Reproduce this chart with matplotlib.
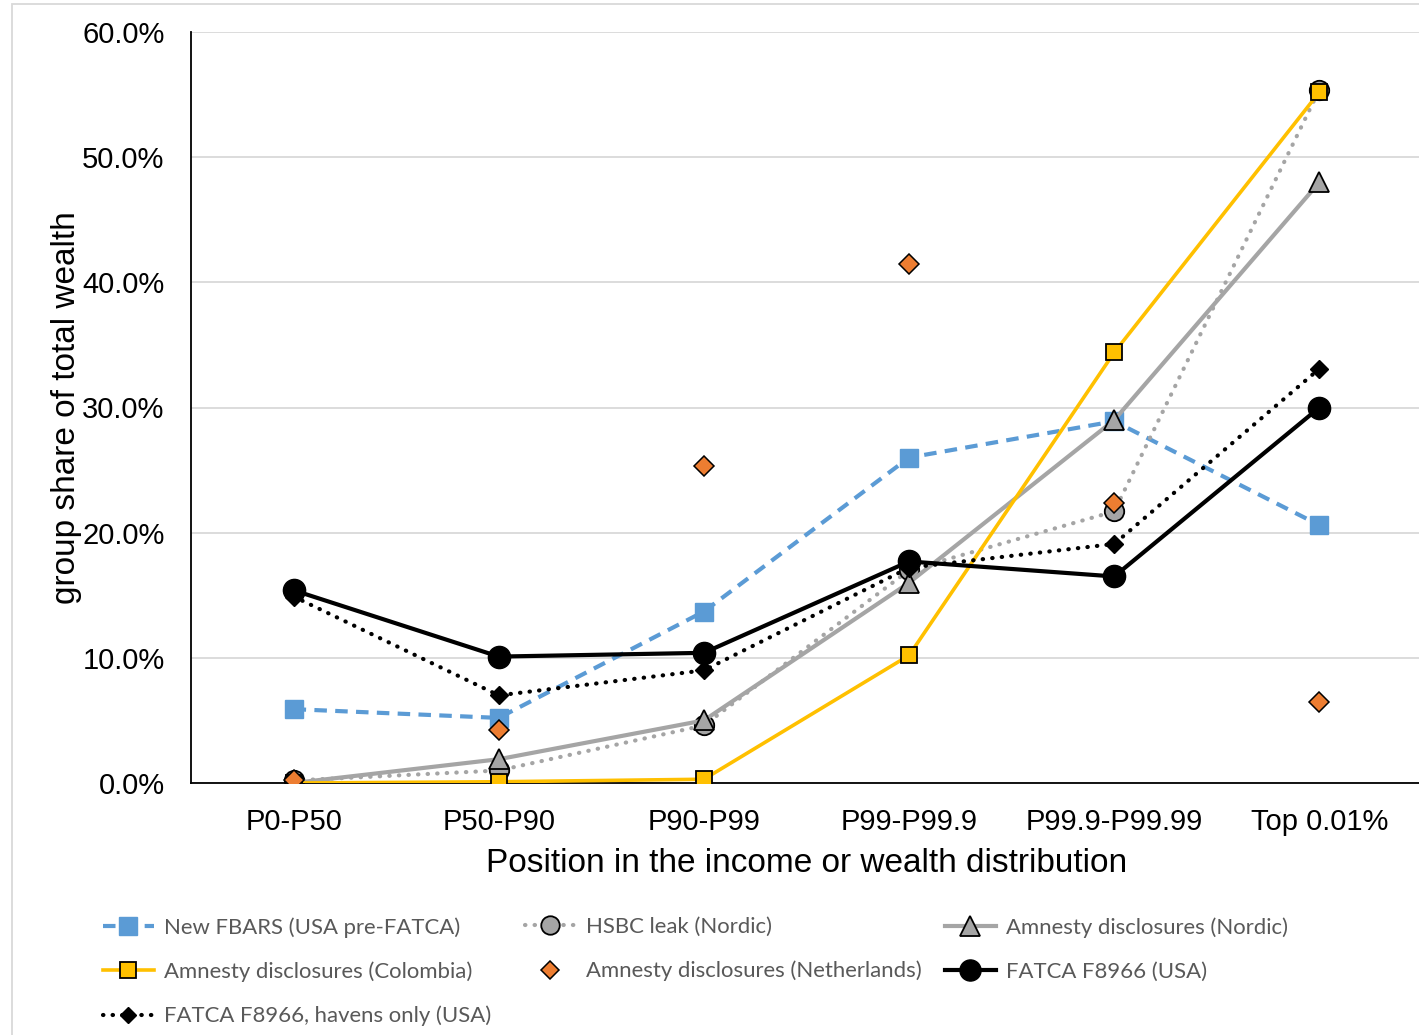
import numpy as np
import matplotlib.pyplot as plt
from matplotlib.patches import Rectangle

categories = ["P0-P50", "P50-P90", "P90-P99", "P99-P99.9", "P99.9-P99.99", "Top 0.01%"]

fbars = [5.9, 5.2, 13.7, 26.0, 28.9, 20.6]
hsbc = [0.2, 1.0, 4.6, 17.0, 21.7, 55.4]
amnesty_nordic = [0.0, 1.9, 5.0, 16.0, 29.0, 48.0]
amnesty_colombia = [0.0, 0.1, 0.3, 10.2, 34.4, 55.2]
amnesty_nl = [0.2, 4.2, 25.3, 41.5, 22.4, 6.5]
fatca = [15.4, 10.1, 10.4, 17.7, 16.5, 30.0]
fatca_havens = [14.9, 7.0, 9.0, 17.2, 19.1, 33.1]

BLUE = "#5B9BD5"
GRAY = "#A5A5A5"
YELLOW = "#FFC000"
ORANGE = "#ED7D31"

plt.rcParams['font.family'] = ['Liberation Sans', 'DejaVu Sans']

fig = plt.figure(figsize=(14.19, 10.35), dpi=100)
W, H = 1419, 1035
ax = fig.add_axes([191 / W, 1 - 783 / H, (1422 - 191) / W, (783 - 32) / H])

x = np.arange(len(categories))

ax.plot(x, fbars, color=BLUE, lw=3, ls=(0, (3, 2)), marker='s', ms=13,
        mfc=BLUE, mec=BLUE, label="New FBARS (USA pre-FATCA)", zorder=3)
ax.plot(x, hsbc, color=GRAY, lw=3, ls=(0, (0.1, 2.2)), dash_capstyle='round',
        marker='o', ms=14, mfc=GRAY, mec='black', mew=1.3,
        label="HSBC leak (Nordic)", zorder=3)
ax.plot(x, amnesty_nordic, color=GRAY, lw=3, marker='^', ms=15, mfc=GRAY,
        mec='black', mew=1.3, label="Amnesty disclosures (Nordic)", zorder=3)
ax.plot(x, amnesty_colombia, color=YELLOW, lw=2.6, marker='s', ms=11.5,
        mfc=YELLOW, mec='black', mew=1.3,
        label="Amnesty disclosures (Colombia)", zorder=4)
ax.plot(x, amnesty_nl, ls='none', marker='D', ms=10, mfc=ORANGE, mec='black',
        mew=1.1, label="Amnesty disclosures (Netherlands)", zorder=6)
ax.plot(x, fatca, color='black', lw=3, marker='o', ms=16, mfc='black',
        mec='black', label="FATCA F8966 (USA)", zorder=5)
ax.plot(x, fatca_havens, color='black', lw=3, ls=(0, (0.1, 2.2)),
        dash_capstyle='round', marker='D', ms=9, mfc='black', mec='black',
        label="FATCA F8966, havens only (USA)", zorder=5)

ax.set_xlim(-0.5, 5.5)
ax.set_ylim(0, 60)
ax.set_yticks(np.arange(0, 61, 10))
ax.set_yticklabels([f"{v:.1f}%" for v in np.arange(0, 61, 10)])
ax.set_xticks(x)
ax.set_xticklabels(categories)
ax.tick_params(axis='both', length=0, labelsize=21)
ax.tick_params(axis='y', pad=19)
ax.tick_params(axis='x', pad=18)
ax.grid(axis='y', color='#D9D9D9', lw=1.3)
ax.set_axisbelow(True)
for s in ['top', 'right']:
    ax.spines[s].set_visible(False)
for s in ['left', 'bottom']:
    ax.spines[s].set_color('black')
    ax.spines[s].set_linewidth(1.3)

ax.set_xlabel("Position in the income or wealth distribution", fontsize=24, labelpad=9)
ax.set_ylabel("group share of total wealth", fontsize=24, labelpad=0)

# outer chart border
fig.patches.append(Rectangle((12 / W, -0.1), 1.2, 1 - 4 / H + 0.1,
                             transform=fig.transFigure, fill=False,
                             ec='#D9D9D9', lw=1.3))

handles, labels = ax.get_legend_handles_labels()
cols = [[0, 3, 6], [1, 4], [2, 5]]
col_x = [103, 525, 945]
for idx, cx in zip(cols, col_x):
    fig.legend([handles[i] for i in idx], [labels[i] for i in idx],
               loc='upper left', bbox_to_anchor=(cx / W, 1 - 917 / H),
               frameon=False, borderpad=0, borderaxespad=0,
               handlelength=2.3, handletextpad=0.45, labelspacing=1.08,
               prop={'family': ['Lato', 'DejaVu Sans'], 'size': 15.9},
               labelcolor='#595959', markerscale=0.95)

fig.savefig("out.png", dpi=100)
